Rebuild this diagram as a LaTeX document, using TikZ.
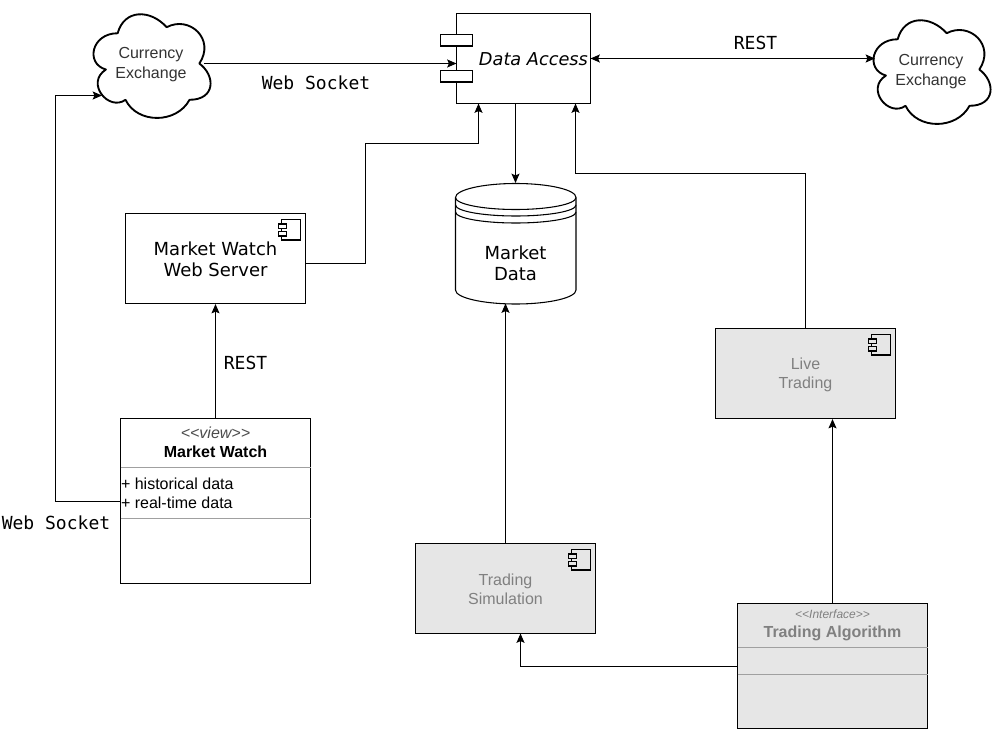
\documentclass[tikz,border=0pt]{standalone}
\usepackage{fontspec}
\usetikzlibrary{arrows.meta,calc}
\setmainfont{Liberation Sans}
\newfontfamily\djsans{DejaVu Sans}
\newfontfamily\djmono{DejaVu Sans Mono}
\definecolor{boxgray}{HTML}{E6E6E6}
\definecolor{txtgray}{HTML}{808080}
\definecolor{divgray}{HTML}{A0A0A0}
\tikzset{
  x=0.75pt,y=-0.75pt,
  every path/.style={line width=0.8pt},
  conn/.style={draw=black,line width=0.8pt,-{Stealth[length=7pt,width=6pt,inset=1.3pt]}},
  biconn/.style={draw=black,line width=0.8pt,{Stealth[length=7pt,width=6pt,inset=1.3pt]}-{Stealth[length=7pt,width=6pt,inset=1.3pt]}},
  boxnode/.style={draw=black,line width=0.8pt,inner sep=0pt,align=center,minimum width=#1*0.75pt},
  hgt/.style={minimum height=#1*0.75pt},
  sanslabel/.style={font=\djsans\fontsize{13.5}{16}\selectfont,align=center,inner sep=0pt},
  monolabel/.style={font=\djmono\fontsize{13.5}{16}\selectfont,inner sep=0pt},
  cloudtext/.style={font=\fontsize{12}{14.7}\selectfont,align=center,inner sep=0pt,text=black!80},
  graytext/.style={font=\fontsize{12}{14.4}\selectfont,align=center,inner sep=0pt,text=txtgray},
  classtext/.style={inner sep=0pt,align=left},
  divider/.style={draw=divgray,line width=0.8pt},
}
\newcommand{\compicon}[2]{%
  \draw[fill=#2,line width=0.8pt] ($(#1.north east)+(-25,6.5)$) rectangle ($(#1.north east)+(-6,27)$);
  \draw[fill=#2,line width=0.8pt] ($(#1.north east)+(-28,11)$) rectangle ($(#1.north east)+(-19.5,15.5)$);
  \draw[fill=#2,line width=0.8pt] ($(#1.north east)+(-28,18.5)$) rectangle ($(#1.north east)+(-19.5,23)$);
}
\newcommand{\cloudshape}[2]{%
  \begin{scope}[shift={(#1,#2)},x=98pt,y=-90.75pt]
  \draw[line width=1.4pt,fill=white,line join=round]
    (.25,.25) .. controls (.05,.25) and (0,.5) .. (.16,.55)
    .. controls (0,.66) and (.18,.9) .. (.31,.8)
    .. controls (.4,1) and (.7,1) .. (.8,.8)
    .. controls (1,.8) and (1,.6) .. (.875,.5)
    .. controls (1,.3) and (.8,.1) .. (.625,.2)
    .. controls (.5,.05) and (.3,.05) .. (.25,.25) -- cycle;
  \end{scope}}
\begin{document}
\begin{tikzpicture}
\useasboundingbox[fill=white] (0,0) rectangle (999,731);

% clouds
\cloudshape{85}{3}
\cloudshape{865}{9}
\node[cloudtext] (cloudL) at (151,64.5) {Currency\\Exchange};
\node[cloudtext] (cloudR) at (931,71.5) {Currency\\Exchange};
\coordinate (cloudLout) at (204,63.5);
\coordinate (cloudLin) at (102,95.5);
\coordinate (cloudRin) at (875,58.5);

% data access
\node[boxnode=134,hgt=90,fill=white] (access) at (523.5,58.5) {};
\node[draw=black,fill=white,inner sep=0pt,minimum width=24pt,minimum height=8.6pt,line width=0.8pt] (portA) at (456.5,40.25) {};
\node[draw=black,fill=white,inner sep=0pt,minimum width=24pt,minimum height=8.6pt,line width=0.8pt] (portB) at (456.5,76.25) {};
\node[inner sep=0pt,font=\djsans\itshape\fontsize{13.3}{16}\selectfont,anchor=east] (accesstxt) at (588.5,59) {Data Access};
\coordinate (accessW) at (456.5,63.5);
\coordinate (accessE) at (590.5,58.5);
\coordinate (accessS) at (515.5,103.5);
\coordinate (accessA) at (478.5,103.5);
\coordinate (accessB) at (575.5,103.5);

% cylinder
\draw[fill=white,line width=0.8pt] (455.5,197.5) arc[start angle=180,end angle=0,x radius=60.25,y radius=-14]
  -- (576,290) arc[start angle=0,end angle=-180,x radius=60.25,y radius=-14] -- cycle;
\draw[line width=0.8pt] (455.5,197.5) arc[start angle=180,end angle=360,x radius=60.25,y radius=-12];
\draw[line width=0.8pt] (455.5,205) arc[start angle=180,end angle=360,x radius=60.25,y radius=-11];
\draw[line width=0.8pt] (455.5,212) arc[start angle=180,end angle=360,x radius=60.25,y radius=-11];
\node[sanslabel] (mdata) at (515.5,263) {Market\\Data};
\coordinate (cylTop) at (515.5,183);
\coordinate (cylBot) at (505.5,303.5);

% web server
\node[boxnode=180,hgt=90,fill=white] (server) at (215.5,258.5) {};
\node[sanslabel] (servertxt) at (215.5,259.5) {Market Watch\\Web Server};
\compicon{server}{white}
\coordinate (serverE) at (305.5,263.5);

% live trading
\node[boxnode=180,hgt=90,fill=boxgray] (live) at (805.5,373.5) {};
\node[graytext] (livetxt) at (805.5,374.5) {Live\\Trading};
\compicon{live}{boxgray}

% simulation
\node[boxnode=180,hgt=90,fill=boxgray] (sim) at (505.5,588.5) {};
\node[graytext] (simtxt) at (505.5,589.5) {Trading\\Simulation};
\compicon{sim}{boxgray}

% Market Watch class
\node[boxnode=190,hgt=165,fill=white] (mw) at (215.5,501) {};
\node[inner sep=0pt,font=\itshape\fontsize{12}{14}\selectfont,text=black!70] (mwst) at (215.5,432.5) {{<}{<}view{>}{>}};
\node[inner sep=0pt,font=\bfseries\fontsize{12}{14}\selectfont] (mwname) at (215.5,451.5) {Market Watch};
\coordinate (mwd1a) at (120.5,467.5); \coordinate (mwd1b) at (310.5,467.5);
\coordinate (mwd2a) at (120.5,518.5); \coordinate (mwd2b) at (310.5,518.5);
\draw[divider] (mwd1a) -- (mwd1b);
\draw[divider] (mwd2a) -- (mwd2b);
\node[classtext,anchor=west,font=\fontsize{12}{14}\selectfont] (mwa1) at (120.5,483.5) {+ historical data};
\node[classtext,anchor=west,font=\fontsize{12}{14}\selectfont] (mwa2) at (120.5,502.5) {+ real-time data};
\coordinate (mwW) at (120.5,501.5);

% Trading Algorithm class
\node[boxnode=190,hgt=125,fill=boxgray] (algo) at (832.5,666) {};
\node[inner sep=0pt,font=\itshape\fontsize{9}{11}\selectfont,text=txtgray] (algost) at (832.5,614.5) {{<}{<}Interface{>}{>}};
\node[inner sep=0pt,font=\bfseries\fontsize{12}{14}\selectfont,text=txtgray] (algoname) at (832.5,633.5) {Trading Algorithm};
\coordinate (algd1a) at (737.5,647.5); \coordinate (algd1b) at (927.5,647.5);
\coordinate (algd2a) at (737.5,674.5); \coordinate (algd2b) at (927.5,674.5);
\draw[divider] (algd1a) -- (algd1b);
\draw[divider] (algd2a) -- (algd2b);
\coordinate (algoW) at (737.5,666.5);

% connectors
\draw[conn] (cloudLout) -- (accessW);
\draw[biconn] (accessE) -- (cloudRin);
\draw[conn] (accessS) -- (cylTop);
\draw[conn] (serverE) -- (365.5,263.5) -- (365.5,143.5) -- (478.5,143.5) -- (accessA);
\draw[conn] (mw.north) -- (server.south);
\draw[conn] (mwW) -- (55.5,501.5) -- (55.5,95.5) -- (cloudLin);
\draw[conn] (sim.north) -- (cylBot);
\draw[conn] (live.north) -- (805.5,173.5) -- (575.5,173.5) -- (accessB);
\draw[conn] (algo.north) -- (live.south -| algo.north);
\draw[conn] (algoW) -- (520.5,666.5) -- (520.5,633.5);

% labels
\node[monolabel] (l1) at (755.5,43) {REST};
\node[monolabel] (l2) at (316,83) {Web Socket};
\node[monolabel] (l3) at (245.5,363) {REST};
\node[monolabel] (l4) at (56,523) {Web Socket};
\end{tikzpicture}
\end{document}
